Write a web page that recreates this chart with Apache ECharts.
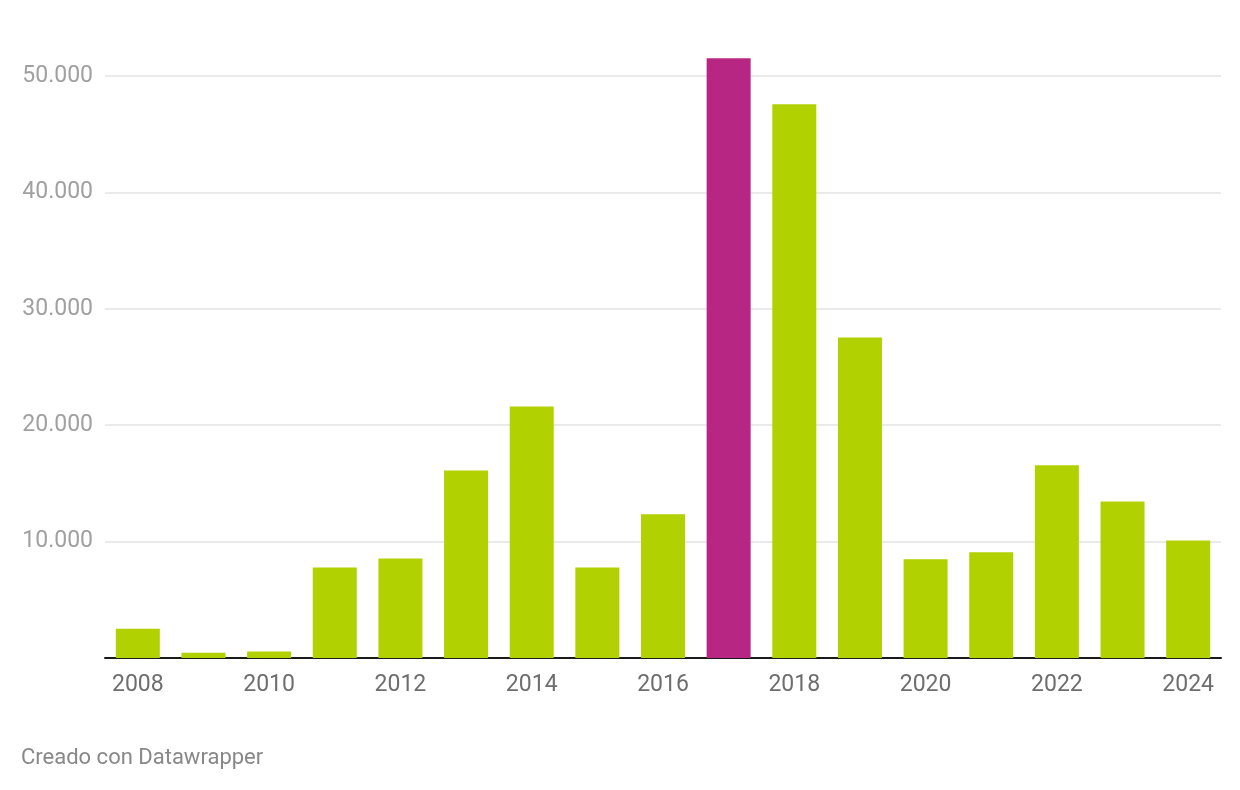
<!DOCTYPE html>
<html>
<head>
<meta charset="utf-8">
<script src="https://cdn.jsdelivr.net/npm/echarts@6/dist/echarts.min.js"></script>
<style>
  html, body { margin: 0; padding: 0; background: #fff; }
  #main { width: 1240px; height: 790px; }
</style>
</head>
<body>
<div id="main"></div>
<script>
const years = ['2008', '2009', '2010', '2011', '2012', '2013', '2014', '2015', '2016',
  '2017', '2018', '2019', '2020', '2021', '2022', '2023', '2024'];
const values = [2520, 460, 550, 7770, 8550, 16110, 21610, 7770, 12350,
  51530, 47570, 27540, 8490, 9090, 16550, 13440, 10100];
const highlightYear = '2017';
const yTicks = [0, 10000, 20000, 30000, 40000, 50000];

const green = '#b1d100';
const magenta = '#b72683';

const chart = echarts.init(document.getElementById('main'));

const fmt = (v) => String(v).replace(/\B(?=(\d{3})+(?!\d))/g, '.');

const option = {
  backgroundColor: '#ffffff',
  animation: false,
  textStyle: { fontFamily: 'Roboto' },
  grid: { left: 105, right: 19, top: 76, bottom: 132 },
  graphic: [
    {
      type: 'text',
      left: 21,
      top: 747,
      style: { text: 'Creado con Datawrapper', fill: '#888888', font: '22px Roboto' },
    },
  ],
  xAxis: {
    type: 'category',
    data: years,
    axisTick: { show: false },
    axisLine: { lineStyle: { color: '#1a1a1a', width: 2 } },
    axisLabel: {
      interval: 1,
      color: '#6e6e6e',
      fontSize: 23,
      margin: 16,
    },
  },
  yAxis: {
    type: 'value',
    min: yTicks[0],
    max: yTicks[yTicks.length - 1],
    interval: 10000,
    axisLine: { show: false },
    axisTick: { show: false },
    splitLine: { lineStyle: { color: '#e3e3e3', width: 1.5 } },
    axisLabel: {
      color: '#a0a0a0',
      fontSize: 23,
      margin: 12,
      showMinLabel: false,
      formatter: (v) => (v === 0 ? '' : fmt(v)),
    },
  },
  series: [
    {
      type: 'bar',
      clip: false,
      barWidth: 44,
      data: values.map((v, i) => ({
        value: v,
        itemStyle: { color: years[i] === highlightYear ? magenta : green },
      })),
    },
  ],
};

chart.setOption(option);
</script>
</body>
</html>
